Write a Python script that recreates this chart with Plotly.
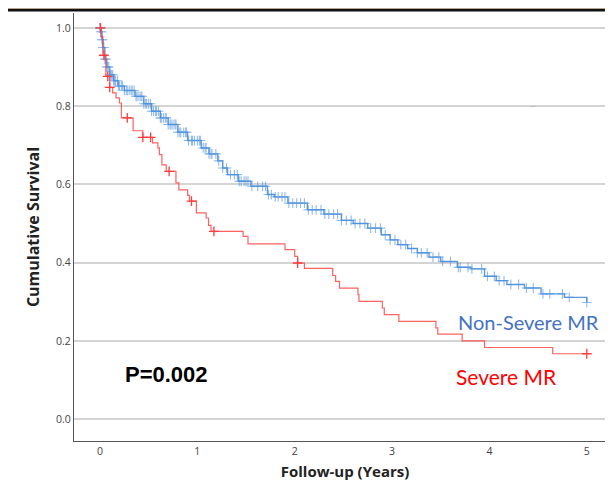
import plotly.graph_objects as go
import numpy as np

# ---- data ----
# Non-Severe MR: Kaplan-Meier step points (years, cumulative survival)
ns_time = [0.0, 0.01, 0.02, 0.03, 0.05, 0.07, 0.10, 0.14, 0.185, 0.25, 0.36, 0.45, 0.53,
           0.62, 0.70, 0.80, 0.90, 1.04, 1.12, 1.21, 1.26, 1.31, 1.42, 1.55, 1.72, 1.79, 1.93,
           2.13, 2.30, 2.48, 2.60, 2.75, 2.89, 2.98, 3.06, 3.16, 3.26, 3.38, 3.50, 3.67, 3.81,
           3.95, 4.07, 4.18, 4.36, 4.53, 4.77, 5.0]
ns_surv = [1.0, 0.99, 0.97, 0.95, 0.92, 0.90, 0.88, 0.865, 0.851, 0.84, 0.825, 0.806, 0.787,
           0.77, 0.753, 0.733, 0.712, 0.693, 0.678, 0.660, 0.642, 0.625, 0.608, 0.595, 0.574,
           0.568, 0.552, 0.535, 0.524, 0.508, 0.500, 0.488, 0.471, 0.458, 0.446, 0.436, 0.425,
           0.414, 0.403, 0.388, 0.384, 0.365, 0.354, 0.344, 0.335, 0.320, 0.311, 0.298]
ns_censor = [0.0, 0.0, 0.005, 0.01, 0.015, 0.02, 0.025, 0.03, 0.04, 0.05, 0.06, 0.07, 0.08,
             0.09, 0.10, 0.11, 0.12, 0.13, 0.14, 0.15, 0.16, 0.18, 0.19, 0.20, 0.22, 0.23,
             0.25, 0.27, 0.28, 0.30, 0.32, 0.33, 0.35, 0.37, 0.38, 0.40, 0.42, 0.43, 0.45,
             0.47, 0.48, 0.50, 0.52, 0.53, 0.55, 0.57, 0.58, 0.60, 0.62, 0.63, 0.65, 0.67,
             0.68, 0.70, 0.72, 0.73, 0.75, 0.77, 0.78, 0.80, 0.82, 0.83, 0.86, 0.88, 0.89,
             0.91, 0.94, 0.95, 0.97, 1.00, 1.02, 1.03, 1.06, 1.08, 1.09, 1.12, 1.14, 1.15,
             1.19, 1.22, 1.26, 1.30, 1.34, 1.38, 1.41, 1.43, 1.45, 1.48, 1.50, 1.52, 1.56,
             1.62, 1.67, 1.70, 1.73, 1.76, 1.80, 1.83, 1.87, 1.90, 1.94, 1.98, 2.02, 2.06,
             2.10, 2.14, 2.18, 2.22, 2.27, 2.31, 2.35, 2.40, 2.44, 2.48, 2.53, 2.58, 2.62,
             2.67, 2.72, 2.78, 2.83, 2.88, 2.93, 2.98, 3.03, 3.09, 3.14, 3.20, 3.26, 3.30,
             3.36, 3.42, 3.48, 3.52, 3.60, 3.68, 3.70, 3.78, 3.82, 3.92, 3.98, 4.05, 4.10,
             4.15, 4.22, 4.30, 4.38, 4.45, 4.55, 4.62, 4.75, 4.82, 5.00]

# Severe MR
sv_time = [0.0, 0.01, 0.03, 0.06, 0.10, 0.13, 0.165, 0.20, 0.22, 0.34, 0.44, 0.54, 0.595,
           0.61, 0.636, 0.68, 0.78, 0.81, 0.90, 0.92, 0.99, 1.09, 1.115, 1.14, 1.47, 1.52,
           1.90, 2.00, 2.03, 2.10, 2.39, 2.42, 2.46, 2.65, 2.66, 2.90, 2.92, 3.07, 3.45,
           3.47, 3.72, 3.95, 4.65, 5.0]
sv_surv = [1.0, 0.977, 0.93, 0.876, 0.848, 0.834, 0.821, 0.808, 0.770, 0.737, 0.720, 0.706,
           0.693, 0.676, 0.650, 0.633, 0.604, 0.586, 0.572, 0.557, 0.527, 0.514, 0.495,
           0.480, 0.467, 0.448, 0.433, 0.416, 0.399, 0.385, 0.367, 0.352, 0.335, 0.318,
           0.301, 0.284, 0.267, 0.250, 0.233, 0.217, 0.200, 0.183, 0.167, 0.167]
sv_censor = [0.005, 0.04, 0.08, 0.10, 0.28, 0.44, 0.52, 0.71, 0.94, 1.17, 2.03, 5.0]

x_ticks = [0, 1, 2, 3, 4, 5]
y_ticks = [0.0, 0.2, 0.4, 0.6, 0.8, 1.0]


def km_at(times, surv, t):
    idx = np.searchsorted(np.array(times), t, side="right") - 1
    return [surv[max(i, 0)] for i in np.atleast_1d(idx)]


BLUE = "#4a8fdc"
RED = "#ff3b3b"

fig = go.Figure()
fig.add_trace(go.Scatter(x=ns_time, y=ns_surv, mode="lines", line_shape="hv",
                         line=dict(color=BLUE, width=1.4), opacity=0.9, showlegend=False))
fig.add_trace(go.Scatter(x=ns_censor, y=km_at(ns_time, ns_surv, ns_censor), mode="markers",
                         marker=dict(symbol="cross-thin", size=7,
                                     line=dict(color=BLUE, width=1.1)),
                         opacity=0.6, showlegend=False))
fig.add_trace(go.Scatter(x=sv_time, y=sv_surv, mode="lines", line_shape="hv",
                         line=dict(color=RED, width=1.2), opacity=0.8, showlegend=False))
fig.add_trace(go.Scatter(x=sv_censor, y=km_at(sv_time, sv_surv, sv_censor), mode="markers",
                         marker=dict(symbol="cross-thin", size=7,
                                     line=dict(color=RED, width=1.3)),
                         showlegend=False))

W, H = 613, 484
mt, mb, ml, mr = 5, 51, 66, 5
ph = H - mt - mb

fig.update_layout(
    width=W, height=H,
    margin=dict(l=ml, r=mr, t=mt, b=mb),
    paper_bgcolor="white", plot_bgcolor="white",
    font=dict(family="Open Sans, Liberation Sans, sans-serif"),
    xaxis=dict(range=[-0.267, 5.30], tickvals=x_ticks, ticktext=[str(v) for v in x_ticks],
               automargin=False,
               showgrid=False, zeroline=False, showline=True, linecolor="#555",
               linewidth=1.2, ticks="", tickfont=dict(size=10.5, color="#444",
                                                       family="Open Sans"),
               title=dict(text="<b>Follow-up (Years)</b>", standoff=9,
                          font=dict(size=15, color="#222", family="Open Sans"))),
    yaxis=dict(range=[-0.056, 1.038], tickvals=y_ticks,
               ticktext=[f"{v:.1f}" for v in y_ticks], automargin=False,
               showgrid=True, gridcolor="#d4d4d4", gridwidth=1.5, zeroline=False,
               showline=True, linecolor="#555", linewidth=1.2, ticks="",
               tickfont=dict(size=10.5, color="#444", family="Open Sans"),
               title=dict(text="<b>Cumulative Survival</b>", standoff=12,
                          font=dict(size=16, color="#222", family="Open Sans"))),
    annotations=[
        dict(x=4.4, y=0.247, xref="x", yref="y", text="Non-Severe MR", showarrow=False,
             font=dict(size=20, color="#4472c4", family="Lato"), xanchor="center"),
        dict(x=4.18, y=0.11, xref="x", yref="y", text="Severe MR", showarrow=False,
             font=dict(size=21, color="#ff0000", family="Lato"), xanchor="center"),
        dict(x=0.68, y=0.115, xref="x", yref="y", text="<b>P=0.002</b>", showarrow=False,
             font=dict(size=22, color="#000", family="Liberation Sans"), xanchor="center"),
        dict(x=4.45, y=0.805, xref="x", yref="y", text="...", showarrow=False,
             font=dict(size=7, color="#999"), xanchor="center"),
    ],
    shapes=[
        dict(type="line", xref="paper", yref="paper",
             x0=-ml / (W - ml - mr), x1=1.0, y0=1 + 3 / ph, y1=1 + 3 / ph,
             line=dict(color="#111", width=3)),
        dict(type="line", xref="paper", yref="paper",
             x0=-ml / (W - ml - mr), x1=1.0, y0=1 + 5 / ph, y1=1 + 5 / ph,
             line=dict(color="#e6c3a3", width=1)),
    ],
)

fig.write_html("out.html")
